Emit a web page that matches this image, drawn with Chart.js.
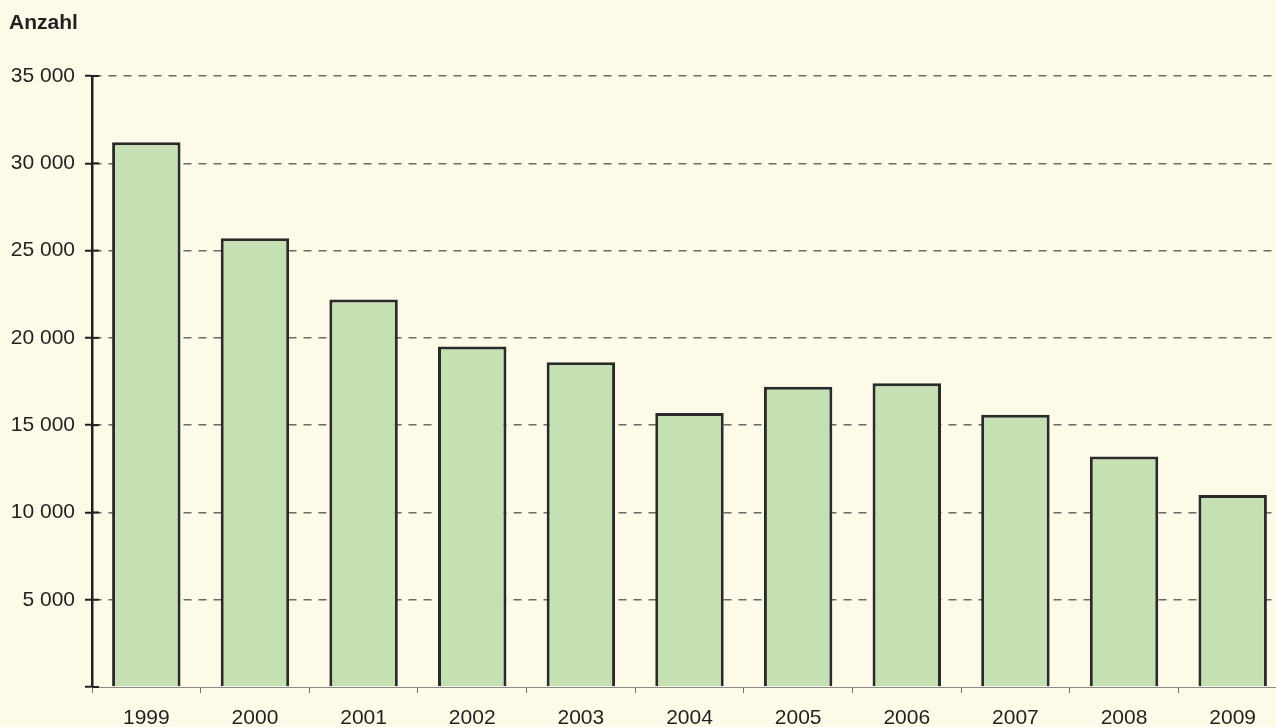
<!DOCTYPE html>
<html>
<head>
<meta charset="utf-8">
<script src="https://cdn.jsdelivr.net/npm/chart.js@4/dist/chart.umd.min.js"></script>
<style>
  html, body { margin: 0; padding: 0; background: #fdfbe8; overflow: hidden; }
  #wrap { position: relative; width: 1290px; height: 727px; }
  #titel { position: absolute; left: 9px; top: 10px; font: bold 21px "Liberation Sans", Arial, sans-serif; color: #231f20; }
</style>
</head>
<body>
<div id="wrap">
  <div id="titel">Anzahl</div>
  <canvas id="anzahlChart"></canvas>
</div>
<script>
    // Daten
    const jahre = ['1999', '2000', '2001', '2002', '2003', '2004', '2005', '2006', '2007', '2008', '2009'];
    const anzahl = [31200, 25700, 22200, 19500, 18600, 15700, 17200, 17400, 15600, 13200, 11000];
    const yMax = 35000;
    const yStep = 5000;

    const fmt = v => v === 0 ? '' : v.toLocaleString('en-US').replace(/,/g, ' ');

    // kurze Striche rechts der y-Achse
    const achsenStriche = {
        id: 'achsenStriche',
        afterDraw(chart) {
            const ctx = chart.ctx;
            const y = chart.scales.y;
            ctx.save();
            ctx.strokeStyle = '#231f20';
            ctx.lineWidth = 2;
            y.ticks.forEach(t => {
                const py = y.getPixelForValue(t.value);
                ctx.beginPath();
                ctx.moveTo(y.right, py);
                ctx.lineTo(y.right + 7, py);
                ctx.stroke();
            });
            ctx.restore();
        }
    };

    new Chart(document.getElementById('anzahlChart'), {
        type: 'bar',
        data: {
            labels: jahre,
            datasets: [{
                label: 'Anzahl',
                data: anzahl,
                backgroundColor: '#c5e1b4',
                borderColor: '#2a2a2a',
                borderWidth: 3,
                categoryPercentage: 0.63,
                barPercentage: 1
            }]
        },
        options: {
            responsive: true,
            maintainAspectRatio: false,
            animation: false,
            layout: { padding: { top: 76, right: 3, left: 0, bottom: 0 } },
            plugins: {
                legend: { display: false },
                tooltip: { enabled: false }
            },
            scales: {
                x: {
                    afterFit(scale) { scale.height = 40; },
                    border: { color: '#8a8a8a', width: 1 },
                    grid: {
                        offset: true,
                        drawOnChartArea: false,
                        tickLength: 6,
                        color: '#6f6f6f'
                    },
                    ticks: {
                        color: '#231f20',
                        padding: 13,
                        font: { family: '"Liberation Sans", Arial, sans-serif', size: 21 }
                    }
                },
                y: {
                    min: 0,
                    max: yMax,
                    afterFit(scale) { scale.width = 92; },
                    border: { color: '#231f20', width: 2.5, dash: [8, 7] },
                    grid: {
                        color: ctx => ctx.tick && ctx.tick.value === 0 ? 'rgba(0,0,0,0)' : '#6a6a6a',
                        tickColor: '#231f20',
                        tickWidth: 2,
                        tickLength: 7,
                        lineWidth: 1.5,
                        tickBorderDash: []
                    },
                    ticks: {
                        stepSize: yStep,
                        color: '#231f20',
                        padding: 10,
                        callback: v => fmt(v),
                        font: { family: '"Liberation Sans", Arial, sans-serif', size: 21 }
                    }
                }
            }
        },
        plugins: [achsenStriche]
    });
</script>
</body>
</html>
